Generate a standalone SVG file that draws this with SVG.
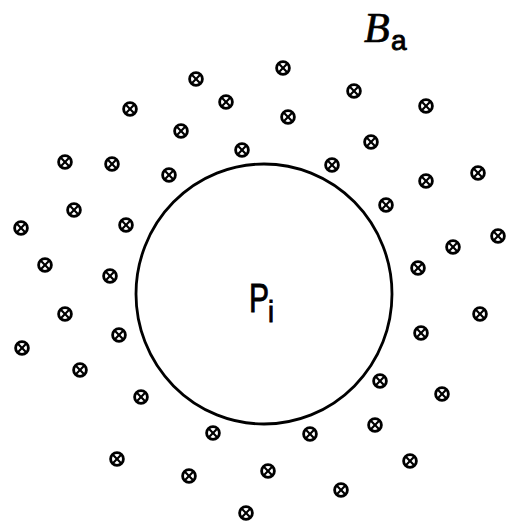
<svg xmlns="http://www.w3.org/2000/svg" xmlns:xlink="http://www.w3.org/1999/xlink" width="506" height="524" viewBox="0 0 506 524">
<style>
.ring{fill:none;stroke:#000;stroke-width:2.8}
.xl{stroke:#000;stroke-width:2.1;stroke-linecap:butt}
.big{fill:none;stroke:#000;stroke-width:2.8}
.sans{font-family:"Liberation Sans",Arial,sans-serif;fill:#000;stroke:#000;stroke-width:0.9}
.serif{font-family:"Liberation Serif","Times New Roman",serif;fill:#000;stroke:#000;stroke-width:0.7}
</style>
<defs>
<g id="ox">
<circle class="ring" cx="0" cy="0" r="6.4"/>
<line class="xl" x1="-4.4" y1="-4.4" x2="4.4" y2="4.4"/>
<line class="xl" x1="-4.4" y1="4.4" x2="4.4" y2="-4.4"/>
</g>
</defs>
<rect width="506" height="524" fill="#fff"/>
<g id="particle">
<ellipse class="big" cx="264" cy="294" rx="128" ry="130"/>
<text class="sans" font-size="40" transform="translate(249,312) scale(0.75,1)">P</text>
<text class="sans" font-size="30" transform="translate(268,322) scale(0.9,1)">i</text>
</g>
<g id="label-Ba">
<text class="serif" font-size="42" font-style="italic" x="364" y="42">B</text>
<text class="sans" font-size="28" x="391" y="50">a</text>
</g>
<g id="charges">
<use xlink:href="#ox" x="283" y="68"/>
<use xlink:href="#ox" x="196" y="79"/>
<use xlink:href="#ox" x="354" y="91"/>
<use xlink:href="#ox" x="226" y="102"/>
<use xlink:href="#ox" x="130" y="109"/>
<use xlink:href="#ox" x="426" y="106"/>
<use xlink:href="#ox" x="288" y="117"/>
<use xlink:href="#ox" x="181" y="131"/>
<use xlink:href="#ox" x="371" y="142"/>
<use xlink:href="#ox" x="242" y="150"/>
<use xlink:href="#ox" x="65" y="162"/>
<use xlink:href="#ox" x="112" y="164"/>
<use xlink:href="#ox" x="332" y="165"/>
<use xlink:href="#ox" x="169" y="175"/>
<use xlink:href="#ox" x="478" y="173"/>
<use xlink:href="#ox" x="426" y="181"/>
<use xlink:href="#ox" x="386" y="205"/>
<use xlink:href="#ox" x="74" y="210"/>
<use xlink:href="#ox" x="126" y="225"/>
<use xlink:href="#ox" x="21" y="228"/>
<use xlink:href="#ox" x="498" y="236"/>
<use xlink:href="#ox" x="453" y="247"/>
<use xlink:href="#ox" x="45" y="265"/>
<use xlink:href="#ox" x="418" y="268"/>
<use xlink:href="#ox" x="110" y="276"/>
<use xlink:href="#ox" x="65" y="314"/>
<use xlink:href="#ox" x="480" y="314"/>
<use xlink:href="#ox" x="119" y="335"/>
<use xlink:href="#ox" x="421" y="333"/>
<use xlink:href="#ox" x="22" y="348"/>
<use xlink:href="#ox" x="80" y="370"/>
<use xlink:href="#ox" x="380" y="381"/>
<use xlink:href="#ox" x="442" y="394"/>
<use xlink:href="#ox" x="141" y="397"/>
<use xlink:href="#ox" x="375" y="425"/>
<use xlink:href="#ox" x="213" y="433"/>
<use xlink:href="#ox" x="310" y="434"/>
<use xlink:href="#ox" x="117" y="459"/>
<use xlink:href="#ox" x="410" y="461"/>
<use xlink:href="#ox" x="268" y="471"/>
<use xlink:href="#ox" x="189" y="476"/>
<use xlink:href="#ox" x="341" y="490"/>
<use xlink:href="#ox" x="246" y="513"/>
</g>
</svg>
